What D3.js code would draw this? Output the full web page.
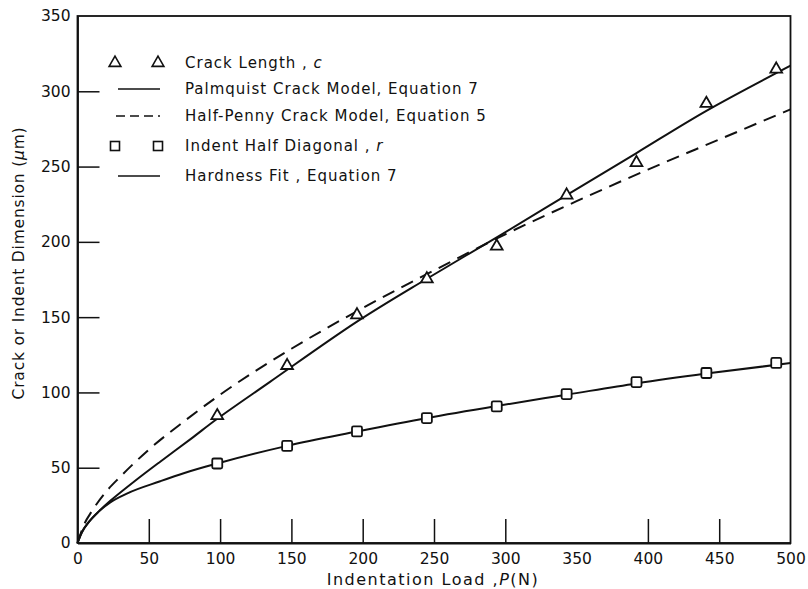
<!DOCTYPE html>
<html>
<head>
<meta charset="utf-8">
<script src="https://cdn.jsdelivr.net/npm/d3@7"></script>
<style>
  body { margin: 0; background: #fff; }
  svg { font-family: "DejaVu Sans", sans-serif; }
</style>
</head>
<body>
<svg></svg>
<script>
// measured points (load P in N, dimension in um)
let crackLoads   = [98, 147, 196, 245, 294, 343, 392, 441, 490],
    crackLength  = [84.5, 117.8, 151.5, 175.4, 197.1, 231, 252.6, 291.9, 314.7],
    indentLoads  = [98, 147, 196, 245, 294, 343, 392, 441, 490],
    indentHalf   = [52.8, 64.5, 74.1, 83, 90.7, 98.9, 106.9, 112.9, 119.6];

// curves
let palmP   = [0, 3, 8, 15, 23, 40, 58, 80, 98, 135, 196, 245, 294, 343, 392, 441, 500],
    palmC   = [0, 7, 14, 21, 28, 41, 54, 69.5, 82.5, 107, 147, 175.5, 203, 231, 259, 287, 317],
    pennyP  = [0, 5, 10, 20, 30, 50, 75, 100, 150, 200, 250, 300, 350, 400, 450, 500],
    pennyC  = [0, 13, 21, 34, 44, 62, 81, 98.5, 129, 156, 181, 205, 227, 248, 268, 288],
    hardP   = [0, 3, 8, 15, 23, 35, 58, 75, 98, 147, 196, 245, 294, 343, 392, 441, 500],
    hardR   = [0, 7, 14, 21, 27, 33, 41, 46.5, 52.8, 64.5, 74, 83, 91, 98.5, 106, 112.5, 119.5];

let xTicks = [0, 50, 100, 150, 200, 250, 300, 350, 400, 450, 500],
    yTicks = [0, 50, 100, 150, 200, 250, 300, 350];

let width = 808, height = 589,
    padL = 77.5, padR = 790.5, padT = 16, padB = 543,
    ink = "#111";

let xScale = d3.scaleLinear().domain([0, 500]).range([padL, padR]),
    yScale = d3.scaleLinear().domain([0, 350]).range([padB, padT]);

let svg = d3.select("svg").attr("width", width).attr("height", height);

// frame
svg.append("rect")
    .attr("x", padL).attr("y", padT)
    .attr("width", padR - padL).attr("height", padB - padT)
    .attr("fill", "none").attr("stroke", ink).attr("stroke-width", 1.8);

let xAxis = d3.axisBottom(xScale).tickValues(xTicks).tickSize(-24).tickSizeOuter(0).tickPadding(10),
    yAxis = d3.axisLeft(yScale).tickValues(yTicks).tickSize(-22).tickSizeOuter(0).tickPadding(7);

let gx = svg.append("g").attr("transform", `translate(0,${padB})`).call(xAxis);
let gy = svg.append("g").attr("transform", `translate(${padL},0)`).call(yAxis);

[gx, gy].forEach(g => {
  g.select(".domain").attr("stroke", ink).attr("stroke-width", 1.8);
  g.selectAll(".tick line").attr("stroke", ink).attr("stroke-width", 1.5)
    .filter(d => d === 0 || d === 500 || d === 350).remove();
  g.selectAll(".tick text").attr("fill", ink).attr("font-size", 15.5)
    .attr("font-family", "DejaVu Sans, sans-serif");
});

// curves
let line = d3.line().x(d => xScale(d[0])).y(d => yScale(d[1])).curve(d3.curveMonotoneX);
let smooth = d3.line().x(d => xScale(d[0])).y(d => yScale(d[1])).curve(d3.curveCatmullRom.alpha(0.5));
let zip = (a, b) => a.map((v, i) => [v, b[i]]);

svg.append("path").datum(zip(palmP, palmC))
    .attr("d", smooth).attr("fill", "none").attr("stroke", ink).attr("stroke-width", 2);
svg.append("path").datum(zip(pennyP, pennyC))
    .attr("d", line).attr("fill", "none").attr("stroke", ink).attr("stroke-width", 2)
    .attr("stroke-dasharray", "13,8");
svg.append("path").datum(zip(hardP, hardR))
    .attr("d", line).attr("fill", "none").attr("stroke", ink).attr("stroke-width", 2);

// markers
let tri = d3.symbol().type(d3.symbolTriangle).size(60);
svg.selectAll(".tri").data(zip(crackLoads, crackLength)).enter()
    .append("path")
    .attr("transform", d => `translate(${xScale(d[0])},${yScale(d[1])})`)
    .attr("d", tri).attr("fill", "#fff").attr("stroke", ink).attr("stroke-width", 1.8);

svg.selectAll(".sq").data(zip(indentLoads, indentHalf)).enter()
    .append("rect")
    .attr("x", d => xScale(d[0]) - 5).attr("y", d => yScale(d[1]) - 5)
    .attr("width", 10).attr("height", 10).attr("rx", 1.5)
    .attr("fill", "#fff").attr("stroke", ink).attr("stroke-width", 1.8);

// legend
let legend = svg.append("g"), lx1 = 115, lx2 = 158, tx = 185;
let rows = [
  {y: 63, kind: "tri", text: "Crack Length , ", it: "c"},
  {y: 89, kind: "solid", text: "Palmquist Crack Model, Equation 7"},
  {y: 116, kind: "dash", text: "Half-Penny Crack Model, Equation 5"},
  {y: 146, kind: "sq", text: "Indent Half Diagonal , ", it: "r"},
  {y: 176, kind: "solid", text: "Hardness Fit , Equation 7"}
];
rows.forEach(r => {
  if (r.kind === "tri") {
    [lx1, lx2].forEach(x => legend.append("path")
      .attr("transform", `translate(${x},${r.y})`).attr("d", tri)
      .attr("fill", "#fff").attr("stroke", ink).attr("stroke-width", 1.6));
  } else if (r.kind === "sq") {
    [lx1, lx2].forEach(x => legend.append("rect")
      .attr("x", x - 4.5).attr("y", r.y - 4.5).attr("width", 9).attr("height", 9)
      .attr("fill", "#fff").attr("stroke", ink).attr("stroke-width", 1.6));
  } else {
    legend.append("line")
      .attr("x1", r.kind === "dash" ? 116 : 118).attr("x2", 160)
      .attr("y1", r.y).attr("y2", r.y)
      .attr("stroke", ink).attr("stroke-width", 1.6)
      .attr("stroke-dasharray", r.kind === "dash" ? "9,5" : null);
  }
  let t = legend.append("text").attr("x", tx).attr("y", r.y).attr("dy", "0.35em")
      .attr("font-size", 15).attr("letter-spacing", 1).attr("fill", ink).text(r.text);
  if (r.it) t.append("tspan").attr("font-style", "italic").text(r.it);
});

// axis titles
let xt = svg.append("text")
    .attr("x", 433).attr("y", 579).attr("dy", "0.35em")
    .attr("text-anchor", "middle").attr("font-size", 16).attr("letter-spacing", 1.5)
    .attr("fill", ink)
    .text("Indentation Load ,");
xt.append("tspan").attr("font-style", "italic").text("P");
xt.append("tspan").text("(N)");

let yt = svg.append("text")
    .attr("transform", `translate(19,263) rotate(-90)`)
    .attr("dy", "0.35em")
    .attr("text-anchor", "middle").attr("font-size", 15.5).attr("letter-spacing", 0.8)
    .attr("fill", ink)
    .text("Crack or Indent Dimension (");
yt.append("tspan").attr("font-style", "italic").text("\u03bc");
yt.append("tspan").text("m)");
</script>
</body>
</html>
